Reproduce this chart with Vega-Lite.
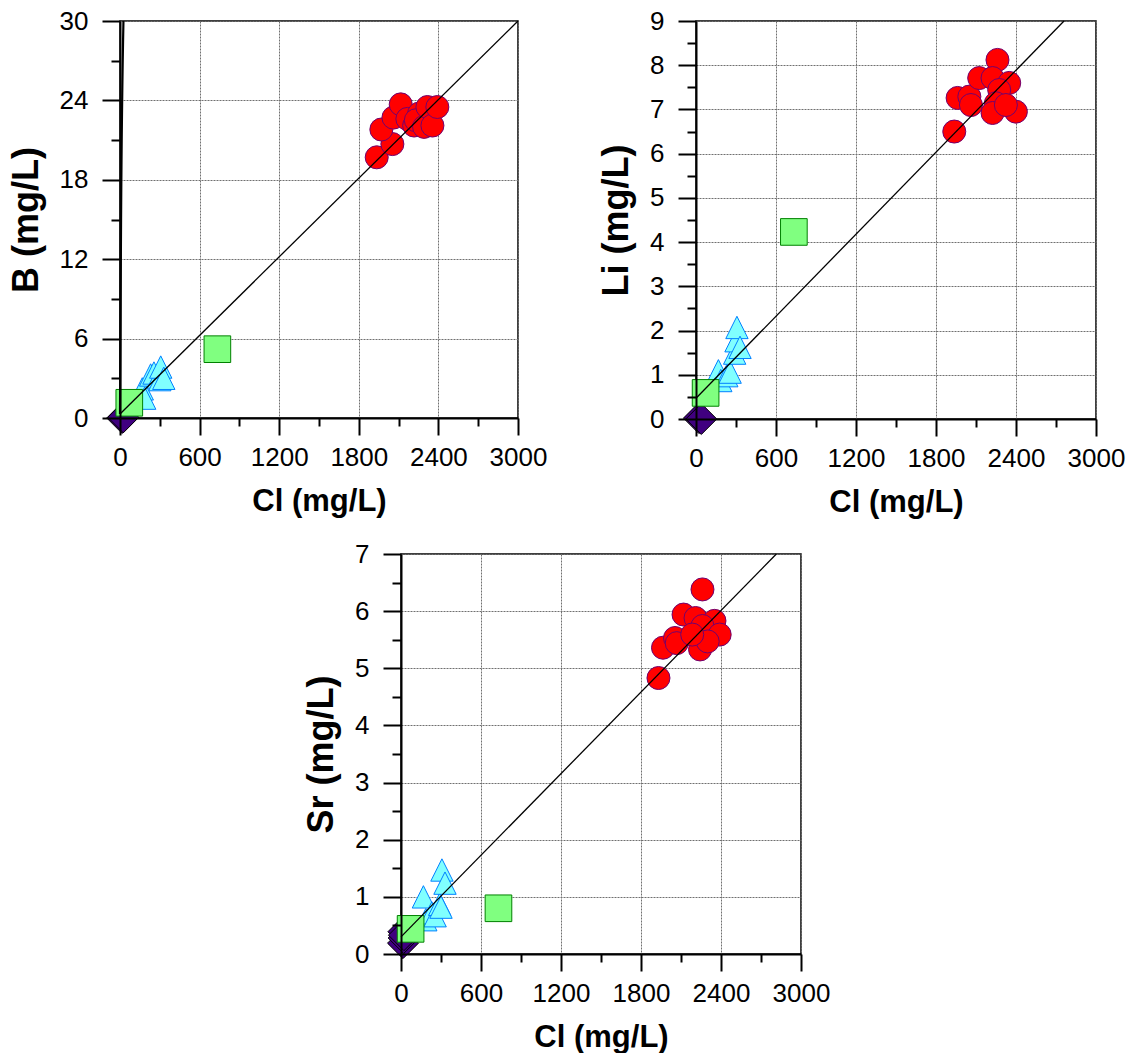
{
  "$schema": "https://vega.github.io/schema/vega-lite/v6.json",
  "background": "white",
  "padding": {"left": 7, "top": 7, "right": 0, "bottom": 0},
  "config": {
    "font": "Liberation Sans",
    "view": {"stroke": "#000000", "strokeWidth": 1.5},
    "axis": {"labelFont": "Liberation Sans", "titleFont": "Liberation Sans", "labelColor": "#000000", "titleColor": "#000000", "labelFlush": false, "labelOverlap": false, "labelBound": false}
  },
  "datasets": {
    "b": [
      {"g": "D", "Cl": 17, "v": 0.0}, {"g": "D", "Cl": 25, "v": 0.05},
      {"g": "T", "Cl": 168, "v": 2.2}, {"g": "T", "Cl": 186, "v": 1.5}, {"g": "T", "Cl": 231, "v": 3.25}, {"g": "T", "Cl": 256, "v": 3.4}, {"g": "T", "Cl": 290, "v": 3.1}, {"g": "T", "Cl": 300, "v": 2.9}, {"g": "T", "Cl": 307, "v": 3.85}, {"g": "T", "Cl": 330, "v": 3.0},
      {"g": "S", "Cl": 70, "v": 1.15}, {"g": "S", "Cl": 734, "v": 5.2},
      {"g": "C", "Cl": 1935, "v": 19.7}, {"g": "C", "Cl": 2053, "v": 20.7}, {"g": "C", "Cl": 1970, "v": 21.8}, {"g": "C", "Cl": 2061, "v": 22.7}, {"g": "C", "Cl": 2116, "v": 23.7}, {"g": "C", "Cl": 2166, "v": 22.6}, {"g": "C", "Cl": 2217, "v": 22.1}, {"g": "C", "Cl": 2254, "v": 23.0}, {"g": "C", "Cl": 2230, "v": 22.5}, {"g": "C", "Cl": 2292, "v": 22.0}, {"g": "C", "Cl": 2317, "v": 23.5}, {"g": "C", "Cl": 2355, "v": 22.1}, {"g": "C", "Cl": 2392, "v": 23.5}
    ],
    "li": [
      {"g": "D", "Cl": 22, "v": 0.02}, {"g": "D", "Cl": 40, "v": 0.0},
      {"g": "T", "Cl": 168, "v": 1.09}, {"g": "T", "Cl": 186, "v": 0.87}, {"g": "T", "Cl": 231, "v": 0.98}, {"g": "T", "Cl": 256, "v": 1.06}, {"g": "T", "Cl": 290, "v": 1.49}, {"g": "T", "Cl": 300, "v": 1.77}, {"g": "T", "Cl": 307, "v": 2.07}, {"g": "T", "Cl": 330, "v": 1.62},
      {"g": "S", "Cl": 72, "v": 0.59}, {"g": "S", "Cl": 734, "v": 4.23},
      {"g": "C", "Cl": 1937, "v": 6.5}, {"g": "C", "Cl": 1962, "v": 7.26}, {"g": "C", "Cl": 2050, "v": 7.29}, {"g": "C", "Cl": 2062, "v": 7.1}, {"g": "C", "Cl": 2124, "v": 7.71}, {"g": "C", "Cl": 2261, "v": 8.12}, {"g": "C", "Cl": 2224, "v": 7.71}, {"g": "C", "Cl": 2349, "v": 7.6}, {"g": "C", "Cl": 2274, "v": 7.44}, {"g": "C", "Cl": 2249, "v": 7.14}, {"g": "C", "Cl": 2224, "v": 6.92}, {"g": "C", "Cl": 2399, "v": 6.95}, {"g": "C", "Cl": 2324, "v": 7.1}
    ],
    "sr": [
      {"g": "D", "Cl": 15, "v": 0.19}, {"g": "D", "Cl": 20, "v": 0.28}, {"g": "D", "Cl": 18, "v": 0.39}, {"g": "D", "Cl": 22, "v": 0.33},
      {"g": "T", "Cl": 168, "v": 1.0}, {"g": "T", "Cl": 186, "v": 0.6}, {"g": "T", "Cl": 231, "v": 0.72}, {"g": "T", "Cl": 256, "v": 0.67}, {"g": "T", "Cl": 290, "v": 0.87}, {"g": "T", "Cl": 300, "v": 0.82}, {"g": "T", "Cl": 307, "v": 1.47}, {"g": "T", "Cl": 330, "v": 1.24},
      {"g": "S", "Cl": 72, "v": 0.44}, {"g": "S", "Cl": 731, "v": 0.8},
      {"g": "C", "Cl": 1931, "v": 4.83}, {"g": "C", "Cl": 1965, "v": 5.36}, {"g": "C", "Cl": 2055, "v": 5.53}, {"g": "C", "Cl": 2068, "v": 5.44}, {"g": "C", "Cl": 2119, "v": 5.94}, {"g": "C", "Cl": 2261, "v": 6.38}, {"g": "C", "Cl": 2209, "v": 5.88}, {"g": "C", "Cl": 2351, "v": 5.83}, {"g": "C", "Cl": 2261, "v": 5.74}, {"g": "C", "Cl": 2390, "v": 5.59}, {"g": "C", "Cl": 2243, "v": 5.33}, {"g": "C", "Cl": 2300, "v": 5.47}, {"g": "C", "Cl": 2184, "v": 5.59}
    ],
    "b_line": [{"Cl": 0, "v": 0.3}, {"Cl": 3000, "v": 30}],
    "b_steep": [{"Cl": 0, "v": 0.3}, {"Cl": 8, "v": 15}, {"Cl": 26, "v": 30}],
    "li_line": [{"Cl": 0, "v": 0.47}, {"Cl": 2760, "v": 9}],
    "sr_line": [{"Cl": 0, "v": 0.3}, {"Cl": 2815, "v": 7}]
  },
  "spacing": 22,
  "vconcat": [
    {
      "spacing": 49,
      "hconcat": [
        {
          "width": 398, "height": 397,
          "resolve": {"axis": {"x": "independent", "y": "independent"}},
          "layer": [
            {
              "data": {"name": "b"}, "transform": [{"filter": "datum.g === 'D'"}],
              "mark": {"type": "point", "shape": "diamond", "filled": true, "fill": "#400080", "stroke": "#000000", "strokeWidth": 1, "size": 960, "opacity": 1},
              "encoding": {
                "x": {"field": "Cl", "type": "quantitative", "scale": {"domain": [0, 3000], "nice": false, "zero": false}, "axis": {"orient": "bottom", "values": [0, 600, 1200, 1800, 2400, 3000], "grid": true, "gridColor": "#707070", "gridDash": [2, 1], "gridWidth": 1, "ticks": false, "labels": false, "domain": false, "title": null, "zindex": 0}},
                "y": {"field": "v", "type": "quantitative", "scale": {"domain": [0, 30], "nice": false, "zero": false}, "axis": {"orient": "left", "values": [0, 6, 12, 18, 24, 30], "grid": true, "gridColor": "#707070", "gridDash": [2, 1], "gridWidth": 1, "ticks": false, "labels": false, "domain": false, "title": null, "zindex": 0}}
              }
            },
            {
              "data": {"name": "b"}, "transform": [{"filter": "datum.g === 'T'"}],
              "mark": {"type": "point", "shape": "M0,-1L1,1L-1,1Z", "filled": true, "fill": "#80FFFF", "stroke": "#0080FF", "strokeWidth": 1, "size": 500, "opacity": 1},
              "encoding": {
                "x": {"field": "Cl", "type": "quantitative", "scale": {"domain": [0, 3000], "nice": false, "zero": false}, "axis": {"orient": "bottom", "values": [0, 600, 1200, 1800, 2400, 3000], "format": "d", "grid": false, "ticks": true, "tickSize": 17, "tickWidth": 2, "tickColor": "#000000", "labels": true, "labelFontSize": 26, "labelPadding": 9, "domain": false, "title": "Cl (mg/L)", "titleFontSize": 31, "titleFontWeight": "bold", "titlePadding": 16, "zindex": 1}},
                "y": {"field": "v", "type": "quantitative", "scale": {"domain": [0, 30], "nice": false, "zero": false}, "axis": {"orient": "left", "values": [0, 6, 12, 18, 24, 30], "grid": false, "ticks": true, "tickSize": 18, "tickWidth": 2, "tickColor": "#000000", "labels": true, "labelFontSize": 26, "labelPadding": 14, "domain": false, "title": "B  (mg/L)", "titleFontSize": 36, "titleFontWeight": "bold", "titlePadding": 14, "zindex": 1}}
              }
            },
            {
              "data": {"name": "b"}, "transform": [{"filter": "datum.g === 'S'"}],
              "mark": {"type": "point", "shape": "square", "filled": true, "fill": "#80FF80", "stroke": "#008000", "strokeWidth": 1, "size": 710, "opacity": 1},
              "encoding": {
                "x": {"field": "Cl", "type": "quantitative", "scale": {"domain": [0, 3000], "nice": false, "zero": false}, "axis": null},
                "y": {"field": "v", "type": "quantitative", "scale": {"domain": [0, 30], "nice": false, "zero": false}, "axis": null}
              }
            },
            {
              "data": {"name": "b"}, "transform": [{"filter": "datum.g === 'C'"}],
              "mark": {"type": "point", "shape": "circle", "filled": true, "fill": "#FF0000", "stroke": "#700070", "strokeWidth": 1, "size": 530, "opacity": 1},
              "encoding": {
                "x": {"field": "Cl", "type": "quantitative", "scale": {"domain": [0, 3000], "nice": false, "zero": false}, "axis": null},
                "y": {"field": "v", "type": "quantitative", "scale": {"domain": [0, 30], "nice": false, "zero": false}, "axis": null}
              }
            },
            {
              "data": {"name": "b_steep"},
              "mark": {"type": "line", "color": "#000000", "strokeWidth": 2.2, "interpolate": "monotone"},
              "encoding": {
                "x": {"field": "Cl", "type": "quantitative", "scale": {"domain": [0, 3000], "nice": false, "zero": false}, "axis": null},
                "y": {"field": "v", "type": "quantitative", "scale": {"domain": [0, 30], "nice": false, "zero": false}, "axis": null},
                "order": {"field": "v", "type": "quantitative"}
              }
            },
            {
              "data": {"name": "b_line"},
              "mark": {"type": "line", "color": "#000000", "strokeWidth": 1.3},
              "encoding": {
                "x": {"field": "Cl", "type": "quantitative", "scale": {"domain": [0, 3000], "nice": false, "zero": false}, "axis": {"orient": "bottom", "values": [300, 900, 1500, 2100, 2700], "grid": false, "ticks": true, "tickSize": 8, "tickWidth": 2, "tickColor": "#000000", "labels": false, "domain": true, "domainColor": "#000000", "domainWidth": 2, "title": null, "zindex": 1}},
                "y": {"field": "v", "type": "quantitative", "scale": {"domain": [0, 30], "nice": false, "zero": false}, "axis": {"orient": "left", "values": [3, 9, 15, 21, 27], "grid": false, "ticks": true, "tickSize": 9, "tickWidth": 2, "tickColor": "#000000", "labels": false, "domain": true, "domainColor": "#000000", "domainWidth": 2, "title": null, "zindex": 1}}
              }
            }
          ]
        },
        {
          "width": 400, "height": 398,
          "resolve": {"axis": {"x": "independent", "y": "independent"}},
          "layer": [
            {
              "data": {"name": "li"}, "transform": [{"filter": "datum.g === 'D'"}],
              "mark": {"type": "point", "shape": "diamond", "filled": true, "fill": "#400080", "stroke": "#000000", "strokeWidth": 1, "size": 960, "opacity": 1},
              "encoding": {
                "x": {"field": "Cl", "type": "quantitative", "scale": {"domain": [0, 3000], "nice": false, "zero": false}, "axis": {"orient": "bottom", "values": [0, 600, 1200, 1800, 2400, 3000], "grid": true, "gridColor": "#707070", "gridDash": [2, 1], "gridWidth": 1, "ticks": false, "labels": false, "domain": false, "title": null, "zindex": 0}},
                "y": {"field": "v", "type": "quantitative", "scale": {"domain": [0, 9], "nice": false, "zero": false}, "axis": {"orient": "left", "values": [0, 1, 2, 3, 4, 5, 6, 7, 8, 9], "grid": true, "gridColor": "#707070", "gridDash": [2, 1], "gridWidth": 1, "ticks": false, "labels": false, "domain": false, "title": null, "zindex": 0}}
              }
            },
            {
              "data": {"name": "li"}, "transform": [{"filter": "datum.g === 'T'"}],
              "mark": {"type": "point", "shape": "M0,-1L1,1L-1,1Z", "filled": true, "fill": "#80FFFF", "stroke": "#0080FF", "strokeWidth": 1, "size": 500, "opacity": 1},
              "encoding": {
                "x": {"field": "Cl", "type": "quantitative", "scale": {"domain": [0, 3000], "nice": false, "zero": false}, "axis": {"orient": "bottom", "values": [0, 600, 1200, 1800, 2400, 3000], "format": "d", "grid": false, "ticks": true, "tickSize": 17, "tickWidth": 2, "tickColor": "#000000", "labels": true, "labelFontSize": 26, "labelPadding": 9, "domain": false, "title": "Cl (mg/L)", "titleFontSize": 31, "titleFontWeight": "bold", "titlePadding": 16, "zindex": 1}},
                "y": {"field": "v", "type": "quantitative", "scale": {"domain": [0, 9], "nice": false, "zero": false}, "axis": {"orient": "left", "values": [0, 1, 2, 3, 4, 5, 6, 7, 8, 9], "grid": false, "ticks": true, "tickSize": 18, "tickWidth": 2, "tickColor": "#000000", "labels": true, "labelFontSize": 26, "labelPadding": 14, "domain": false, "title": "Li  (mg/L)", "titleFontSize": 36, "titleFontWeight": "bold", "titlePadding": 14, "zindex": 1}}
              }
            },
            {
              "data": {"name": "li"}, "transform": [{"filter": "datum.g === 'S'"}],
              "mark": {"type": "point", "shape": "square", "filled": true, "fill": "#80FF80", "stroke": "#008000", "strokeWidth": 1, "size": 710, "opacity": 1},
              "encoding": {
                "x": {"field": "Cl", "type": "quantitative", "scale": {"domain": [0, 3000], "nice": false, "zero": false}, "axis": null},
                "y": {"field": "v", "type": "quantitative", "scale": {"domain": [0, 9], "nice": false, "zero": false}, "axis": null}
              }
            },
            {
              "data": {"name": "li"}, "transform": [{"filter": "datum.g === 'C'"}],
              "mark": {"type": "point", "shape": "circle", "filled": true, "fill": "#FF0000", "stroke": "#700070", "strokeWidth": 1, "size": 530, "opacity": 1},
              "encoding": {
                "x": {"field": "Cl", "type": "quantitative", "scale": {"domain": [0, 3000], "nice": false, "zero": false}, "axis": null},
                "y": {"field": "v", "type": "quantitative", "scale": {"domain": [0, 9], "nice": false, "zero": false}, "axis": null}
              }
            },
            {
              "data": {"name": "li_line"},
              "mark": {"type": "line", "color": "#000000", "strokeWidth": 1.3},
              "encoding": {
                "x": {"field": "Cl", "type": "quantitative", "scale": {"domain": [0, 3000], "nice": false, "zero": false}, "axis": {"orient": "bottom", "values": [300, 900, 1500, 2100, 2700], "grid": false, "ticks": true, "tickSize": 8, "tickWidth": 2, "tickColor": "#000000", "labels": false, "domain": true, "domainColor": "#000000", "domainWidth": 2, "title": null, "zindex": 1}},
                "y": {"field": "v", "type": "quantitative", "scale": {"domain": [0, 9], "nice": false, "zero": false}, "axis": {"orient": "left", "values": [0.5, 1.5, 2.5, 3.5, 4.5, 5.5, 6.5, 7.5, 8.5], "grid": false, "ticks": true, "tickSize": 9, "tickWidth": 2, "tickColor": "#000000", "labels": false, "domain": true, "domainColor": "#000000", "domainWidth": 2, "title": null, "zindex": 1}}
              }
            }
          ]
        }
      ]
    },
    {
      "spacing": 10,
      "hconcat": [
        {
          "width": 172, "height": 10,
          "view": {"stroke": null},
          "data": {"values": [{"a": 1}]},
          "mark": {"type": "text", "text": ""},
          "encoding": {}
        },
        {
          "width": 400, "height": 400,
          "resolve": {"axis": {"x": "independent", "y": "independent"}},
          "layer": [
            {
              "data": {"name": "sr"}, "transform": [{"filter": "datum.g === 'D'"}],
              "mark": {"type": "point", "shape": "diamond", "filled": true, "fill": "#400080", "stroke": "#000000", "strokeWidth": 1, "size": 960, "opacity": 1},
              "encoding": {
                "x": {"field": "Cl", "type": "quantitative", "scale": {"domain": [0, 3000], "nice": false, "zero": false}, "axis": {"orient": "bottom", "values": [0, 600, 1200, 1800, 2400, 3000], "grid": true, "gridColor": "#707070", "gridDash": [2, 1], "gridWidth": 1, "ticks": false, "labels": false, "domain": false, "title": null, "zindex": 0}},
                "y": {"field": "v", "type": "quantitative", "scale": {"domain": [0, 7], "nice": false, "zero": false}, "axis": {"orient": "left", "values": [0, 1, 2, 3, 4, 5, 6, 7], "grid": true, "gridColor": "#707070", "gridDash": [2, 1], "gridWidth": 1, "ticks": false, "labels": false, "domain": false, "title": null, "zindex": 0}}
              }
            },
            {
              "data": {"name": "sr"}, "transform": [{"filter": "datum.g === 'T'"}],
              "mark": {"type": "point", "shape": "M0,-1L1,1L-1,1Z", "filled": true, "fill": "#80FFFF", "stroke": "#0080FF", "strokeWidth": 1, "size": 500, "opacity": 1},
              "encoding": {
                "x": {"field": "Cl", "type": "quantitative", "scale": {"domain": [0, 3000], "nice": false, "zero": false}, "axis": {"orient": "bottom", "values": [0, 600, 1200, 1800, 2400, 3000], "format": "d", "grid": false, "ticks": true, "tickSize": 17, "tickWidth": 2, "tickColor": "#000000", "labels": true, "labelFontSize": 26, "labelPadding": 9, "domain": false, "title": "Cl (mg/L)", "titleFontSize": 31, "titleFontWeight": "bold", "titlePadding": 16, "zindex": 1}},
                "y": {"field": "v", "type": "quantitative", "scale": {"domain": [0, 7], "nice": false, "zero": false}, "axis": {"orient": "left", "values": [0, 1, 2, 3, 4, 5, 6, 7], "grid": false, "ticks": true, "tickSize": 18, "tickWidth": 2, "tickColor": "#000000", "labels": true, "labelFontSize": 26, "labelPadding": 14, "domain": false, "title": "Sr  (mg/L)", "titleFontSize": 36, "titleFontWeight": "bold", "titlePadding": 14, "zindex": 1}}
              }
            },
            {
              "data": {"name": "sr"}, "transform": [{"filter": "datum.g === 'S'"}],
              "mark": {"type": "point", "shape": "square", "filled": true, "fill": "#80FF80", "stroke": "#008000", "strokeWidth": 1, "size": 710, "opacity": 1},
              "encoding": {
                "x": {"field": "Cl", "type": "quantitative", "scale": {"domain": [0, 3000], "nice": false, "zero": false}, "axis": null},
                "y": {"field": "v", "type": "quantitative", "scale": {"domain": [0, 7], "nice": false, "zero": false}, "axis": null}
              }
            },
            {
              "data": {"name": "sr"}, "transform": [{"filter": "datum.g === 'C'"}],
              "mark": {"type": "point", "shape": "circle", "filled": true, "fill": "#FF0000", "stroke": "#700070", "strokeWidth": 1, "size": 530, "opacity": 1},
              "encoding": {
                "x": {"field": "Cl", "type": "quantitative", "scale": {"domain": [0, 3000], "nice": false, "zero": false}, "axis": null},
                "y": {"field": "v", "type": "quantitative", "scale": {"domain": [0, 7], "nice": false, "zero": false}, "axis": null}
              }
            },
            {
              "data": {"name": "sr_line"},
              "mark": {"type": "line", "color": "#000000", "strokeWidth": 1.3},
              "encoding": {
                "x": {"field": "Cl", "type": "quantitative", "scale": {"domain": [0, 3000], "nice": false, "zero": false}, "axis": {"orient": "bottom", "values": [300, 900, 1500, 2100, 2700], "grid": false, "ticks": true, "tickSize": 8, "tickWidth": 2, "tickColor": "#000000", "labels": false, "domain": true, "domainColor": "#000000", "domainWidth": 2, "title": null, "zindex": 1}},
                "y": {"field": "v", "type": "quantitative", "scale": {"domain": [0, 7], "nice": false, "zero": false}, "axis": {"orient": "left", "values": [0.5, 1.5, 2.5, 3.5, 4.5, 5.5, 6.5], "grid": false, "ticks": true, "tickSize": 9, "tickWidth": 2, "tickColor": "#000000", "labels": false, "domain": true, "domainColor": "#000000", "domainWidth": 2, "title": null, "zindex": 1}}
              }
            }
          ]
        }
      ]
    }
  ]
}
